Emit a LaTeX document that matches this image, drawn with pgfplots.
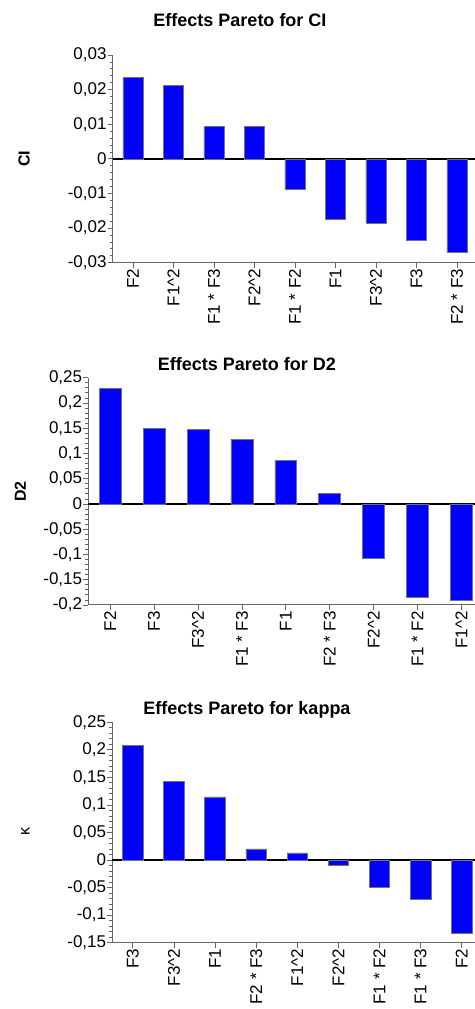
\documentclass[border=0pt]{standalone}
\usepackage{pgfplots}
\pgfplotsset{compat=1.18}
\usepackage{fontspec}
\setmainfont{Liberation Sans}
\definecolor{axgray}{gray}{0.4}
\pgfplotsset{
  pareto/.style={
    scale only axis,
    anchor=south west,
    axis lines*=left,
    xmin=-0.5, xmax=8.5,
    xtick={0,...,8},
    ybar, bar width=0.5,
    tick align=outside,
    major tick length=5pt, minor tick length=3pt,
    minor y tick num=4,
    axis line style={axgray, line width=1pt},
    every tick/.style={axgray, line width=0.8pt},
    scaled y ticks=false,
    /pgf/number format/.cd, use comma, fixed, precision=2, assume math mode=true,
    /pgfplots/.cd,
    yticklabel style={font=\fontsize{17}{17}\selectfont, inner sep=1pt},
    xticklabel style={rotate=90, anchor=east, font=\fontsize{17}{17}\selectfont, inner sep=1pt},
    extra y ticks={0}, extra y tick labels={},
    extra y tick style={grid=major, major grid style={black, line width=2pt}, major tick length=0pt},
  },
  barstyle/.style={fill=blue, draw=black!55, line width=0.6pt},
}
\begin{document}
\begin{tikzpicture}[x=1pt,y=1pt]
\useasboundingbox (0pt,0pt) rectangle (474pt,1009pt);
% Panel 1
\begin{axis}[pareto, at={(112.7pt,746.3pt)}, width=364.5pt, height=207.7pt,
  ymin=-0.03, ymax=0.03, ytick={-0.03,-0.02,-0.01,0,0.01,0.02,0.03},
  xticklabels={F2,F1\textasciicircum 2,F1 * F3,F2\textasciicircum 2,F1 * F2,F1,F3\textasciicircum 2,F3,F2 * F3}]
\addplot[barstyle] coordinates {(0,0.0235) (1,0.0213) (2,0.0093) (3,0.0093) (4,-0.0088) (5,-0.0174) (6,-0.0185) (7,-0.0234) (8,-0.0271)};
\end{axis}
\node[anchor=base, font=\bfseries\fontsize{18}{18}\selectfont] at (240pt,982.3pt) {Effects Pareto for CI};
\node[rotate=90, font=\bfseries\fontsize{16}{16}\selectfont] at (24pt,850pt) {CI};
% Panel 2
\begin{axis}[pareto, at={(88.3pt,404pt)}, width=395pt, height=227.3pt,
  ymin=-0.2, ymax=0.25, ytick={-0.2,-0.15,-0.1,-0.05,0,0.05,0.1,0.15,0.2,0.25},
  xticklabels={F2,F3,F3\textasciicircum 2,F1 * F3,F1,F2 * F3,F2\textasciicircum 2,F1 * F2,F1\textasciicircum 2}]
\addplot[barstyle] coordinates {(0,0.229) (1,0.150) (2,0.148) (3,0.1286) (4,0.0857) (5,0.0211) (6,-0.107) (7,-0.1846) (8,-0.1905)};
\end{axis}
\node[anchor=base, font=\bfseries\fontsize{18}{18}\selectfont] at (247pt,638.3pt) {Effects Pareto for D2};
\node[rotate=90, font=\bfseries\fontsize{16}{16}\selectfont] at (20.3pt,517.3pt) {D2};
% Panel 3
\begin{axis}[pareto, at={(112.3pt,66.4pt)}, width=370pt, height=220.3pt,
  ymin=-0.15, ymax=0.25, ytick={-0.15,-0.1,-0.05,0,0.05,0.1,0.15,0.2,0.25},
  xticklabels={F3,F3\textasciicircum 2,F1,F2 * F3,F1\textasciicircum 2,F2\textasciicircum 2,F1 * F2,F1 * F3,F2}]
\addplot[barstyle] coordinates {(0,0.2076) (1,0.1429) (2,0.1144) (3,0.020) (4,0.0127) (5,-0.0097) (6,-0.0503) (7,-0.0721) (8,-0.133)};
\end{axis}
\node[anchor=base, font=\bfseries\fontsize{18}{18}\selectfont] at (247pt,294pt) {Effects Pareto for kappa};
\node[rotate=90, font=\fontsize{16}{16}\selectfont] at (25.3pt,177pt) {κ};
\end{tikzpicture}
\end{document}
